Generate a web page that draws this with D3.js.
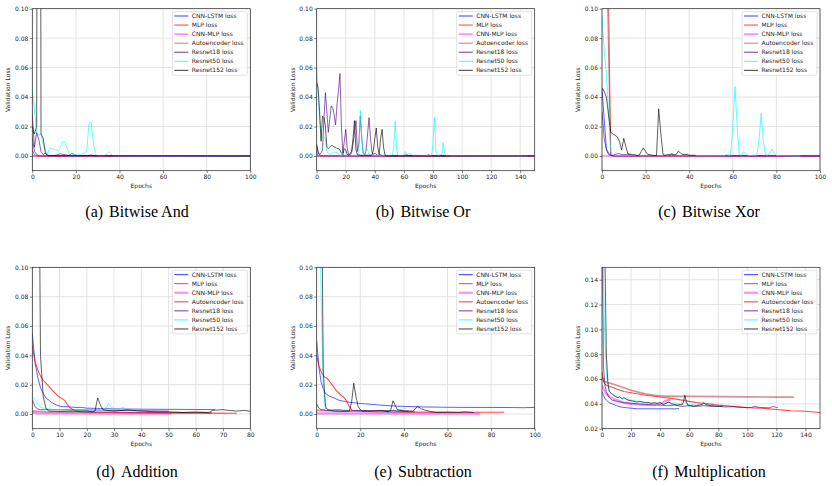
<!DOCTYPE html>
<html><head><meta charset="utf-8">
<script src="https://cdn.jsdelivr.net/npm/d3@7"></script>
<style>body{margin:0;background:#fff}svg{display:block}</style>
</head><body><svg id="c" width="832" height="486"></svg>
<script>
// ---------------- DATA: [epoch, validation loss] ----------------
const seriesNames = ["CNN-LSTM loss","MLP loss","CNN-MLP loss","Autoencoder loss","Resnet18 loss","Resnet50 loss","Resnet152 loss"];

// (a) Bitwise And
const aCnnLstm = [[0,0.012],[1,0.003],[2,0.001],[3,0],[100,0]];
const aMlp = [[0,0.004],[1,0.001],[2,0],[100,0]];
const aCnnMlp = [[0,0],[100,0]];
const aAuto = [[0,0],[100,0]];
const aResnet18 = [[0,0.028],[1,0.006],[2,0.016],[3,0.011],[4,0.003],[5,0.001],[6,0.002],[7,0.0005],[8,0.0003],[11,0.0005],[12,0.0012],[13,0.0015],[14,0.001],[15,0.0008],[17,0.0002],[18,0.0018],[19,0.0012],[20,0.0002],[26,0.0002],[27,0.0008],[28,0.0002],[40,0.0001],[100,0]];
const aResnet50 = [[0,0.045],[1,0.032],[2,0.016],[3,0.014],[4,0.015],[5,0.008],[6,0.004],[7,0.001],[8,0.0055],[9,0.005],[10,0.0045],[11,0.004],[12,0.004],[13,0.006],[14,0.0095],[15,0.0095],[16,0.005],[17,0.001],[18,0.0015],[19,0.001],[20,0.001],[21,0.0005],[22,0.001],[23,0.0015],[24,0.002],[25,0.004],[26,0.022],[27,0.023],[28,0.009],[29,0.001],[30,0.0003],[33,0.0003],[34,0.001],[35,0.003],[36,0.0015],[37,0.0002],[45,0.0001],[100,0]];
const aResnet152 = [[0,0.02],[1,0.015],[2,0.02],[3,0.9],[4,0.015],[5,0.012],[6,0.002],[7,0.0005],[8,0.0002],[100,0]];

// (b) Bitwise Or
const bCnnLstm = [[0,0.008],[1,0.002],[2,0.0005],[3,0],[150,0]];
const bMlp = [[0,0.003],[1,0],[150,0]];
const bCnnMlp = [[0,0],[150,0]];
const bAuto = [[0,0],[150,0]];
const bResnet18 = [[0,0.007],[1,0.003],[2,0.001],[3,0.002],[4,0.004],[5,0.025],[6,0.043],[7,0.03],[8,0.016],[9,0.025],[10,0.034],[11,0.033],[12,0.028],[13,0.021],[14,0.035],[15,0.045],[16,0.056],[17,0.02],[18,0.002],[19,0.01],[20,0.018],[21,0.005],[22,0.001],[23,0.0005],[24,0.002],[25,0.008],[26,0.016],[27,0.024],[28,0.003],[29,0.008],[30,0.027],[31,0.012],[32,0.002],[33,0.001],[34,0.004],[35,0.015],[36,0.026],[37,0.012],[38,0.003],[39,0.001],[40,0.002],[41,0.001],[42,0.0005],[44,0.001],[45,0.0002],[60,0.0002],[62,0.001],[63,0.0003],[76,0.0003],[77,0.001],[78,0.0002],[92,0.0001]];
const bResnet50 = [[0,0.06],[1,0.042],[2,0.025],[3,0.016],[4,0.012],[5,0.013],[6,0.012],[7,0.003],[8,0.002],[9,0.001],[10,0.0015],[11,0.002],[12,0.003],[13,0.002],[14,0.0025],[15,0.001],[16,0.0005],[18,0.001],[20,0.0005],[28,0.0005],[29,0.003],[30,0.031],[31,0.012],[32,0.002],[33,0.001],[34,0.005],[35,0.004],[36,0.001],[37,0.0005],[52,0.0005],[53,0.005],[54,0.024],[55,0.004],[56,0.0003],[60,0.0005],[61,0.003],[62,0.001],[63,0.002],[64,0.001],[65,0.0015],[66,0.0005],[79,0.0003],[80,0.008],[81,0.026],[82,0.004],[83,0.0003],[86,0.001],[87,0.009],[88,0.002],[89,0.0002],[145,0]];
const bResnet152 = [[0,0.05],[1,0.046],[2,0.03],[3,0.01],[4,0.027],[5,0.026],[6,0.02],[7,0.006],[8,0.005],[9,0.006],[10,0.007],[11,0.007],[12,0.006],[13,0.006],[14,0.005],[15,0.005],[16,0.004],[17,0.002],[18,0.001],[19,0.005],[20,0.004],[21,0.001],[22,0.0005],[24,0.003],[25,0.012],[26,0.024],[27,0.004],[28,0.001],[30,0.0005],[38,0.0005],[39,0.004],[40,0.012],[41,0.019],[42,0.006],[43,0.001],[44,0.012],[45,0.018],[46,0.006],[47,0.0005],[48,0],[150,0]];

// (c) Bitwise Xor
const cCnnLstm = [[0,0.046],[1,0.025],[2,0.005],[3,0.002],[4,0.0005],[5,0],[100,0]];
const cMlp = [[0,0.4],[1,0.3],[2,0.25],[3,0.11],[4,0.001],[5,0],[100,0]];
const cCnnMlp = [[0,0],[100,0]];
const cAuto = [[0,0.45],[1,0.35],[2,0.15],[3,0.07],[4,0.0005],[5,0],[100,0]];
const cResnet18 = [[0,0.03],[1,0.012],[2,0.004],[3,0.001],[4,0.0005],[5,0.0005],[6,0.001],[7,0.0015],[8,0.0015],[9,0.001],[10,0.0008],[11,0.001],[12,0.0015],[13,0.0008],[14,0.0004],[30,0.0003],[31,0.001],[32,0.0015],[33,0.001],[34,0.0003],[45,0.0002],[100,0]];
const cResnet50 = [[0,0.095],[1,0.072],[2,0.056],[3,0.03],[4,0.003],[5,0.001],[6,0.0003],[56,0.0002],[57,0.001],[58,0.0005],[59,0.0005],[60,0.02],[61,0.047],[62,0.02],[63,0.001],[64,0.0005],[65,0.003],[66,0.0015],[67,0.0003],[71,0.0005],[72,0.01],[73,0.029],[74,0.01],[75,0.001],[76,0.0005],[77,0.002],[78,0.0045],[79,0.002],[80,0.0003],[91,0]];
const cResnet152 = [[0,0.046],[1,0.044],[2,0.04],[3,0.028],[4,0.016],[5,0.015],[6,0.014],[7,0.013],[8,0.01],[9,0.004],[10,0.012],[11,0.006],[12,0.001],[13,0.0012],[14,0.001],[15,0.0008],[16,0.0003],[17,0.0005],[18,0.003],[19,0.0055],[20,0.003],[21,0.001],[22,0.001],[23,0.0005],[24,0.0003],[25,0.0003],[26,0.032],[27,0.015],[28,0.001],[29,0.0005],[30,0.001],[31,0.0005],[32,0.001],[33,0.0005],[34,0.001],[35,0.0033],[36,0.002],[37,0.001],[38,0.001],[39,0.001],[40,0.0005],[43,0.0005]];

// (d) Addition
const dCnnLstm = [[0,0.055],[1,0.035],[2,0.025],[3,0.018],[4,0.014],[5,0.011],[6,0.0095],[7,0.008],[8,0.007],[9,0.006],[10,0.0055],[11,0.005],[12,0.005],[14,0.0048],[16,0.0045],[18,0.0045],[20,0.004],[25,0.0038],[30,0.0035],[40,0.0033],[50,0.0032],[60,0.0031],[67,0.003]];
const dMlp = [[0,0.046],[1,0.036],[2,0.03],[3,0.026],[4,0.023],[5,0.021],[6,0.019],[7,0.017],[8,0.015],[9,0.013],[10,0.0115],[11,0.0105],[12,0.009],[13,0.006],[14,0.004],[15,0.003],[16,0.002],[18,0.0015],[25,0.0012],[35,0.001],[50,0.0008],[65,0.0006],[75,0.0005]];
const dCnnMlp = [[0,0.001],[2,0.0005],[51,0.0003]];
const dAuto = [[0,0.002],[5,0.0015],[20,0.0012],[40,0.001],[55,0.001],[66,0.0009]];
const dResnet18 = [[0,0.01],[1,0.005],[2,0.0035],[3,0.003],[10,0.003],[20,0.0028],[30,0.0025],[40,0.0023],[50,0.002]];
const dResnet50 = [[0,0.012],[1,0.01],[2,0.007],[3,0.0045],[4,0.004],[5,0.004],[6,0.0035],[8,0.003],[10,0.003],[15,0.0025],[20,0.0025],[25,0.003],[27,0.004],[28,0.007],[29,0.005],[30,0.003],[32,0.003],[33,0.0045],[34,0.004],[35,0.003],[38,0.0025],[40,0.002]];
const dResnet152 = [[0,0.5],[1,0.4],[2,0.3],[3,0.04],[4,0.012],[5,0.004],[6,0.002],[10,0.0018],[15,0.002],[20,0.002],[22,0.0015],[23,0.002],[24,0.011],[25,0.006],[26,0.003],[27,0.0025],[30,0.002],[35,0.0028],[40,0.002],[45,0.0015],[50,0.0015],[55,0.001],[60,0.0013],[64,0.001],[65,0.0008],[66,0.0025],[70,0.003],[72,0.0025],[75,0.002],[78,0.0025],[80,0.0018]];

// (e) Subtraction
const eCnnLstm = [[0,0.05],[1,0.032],[2,0.022],[3,0.017],[4,0.014],[5,0.013],[6,0.012],[8,0.011],[10,0.0095],[12,0.0088],[15,0.008],[20,0.0072],[25,0.0066],[30,0.006],[35,0.0055],[40,0.0052],[50,0.0048],[60,0.0046],[70,0.0045],[80,0.0045],[90,0.0044],[95,0.0043],[100,0.0045]];
const eMlp = [[0,0.04],[1,0.033],[2,0.029],[3,0.026],[4,0.025],[5,0.024],[6,0.022],[7,0.02],[8,0.018],[9,0.016],[10,0.0145],[11,0.013],[12,0.012],[13,0.0105],[14,0.008],[15,0.005],[16,0.003],[17,0.002],[20,0.0018],[30,0.0015],[50,0.0013],[70,0.0012],[86,0.0012]];
const eCnnMlp = [[0,0.0005],[75,0.0003]];
const eAuto = [[0,0.0025],[10,0.002],[25,0.002],[40,0.0018],[45,0.0015]];
const eResnet18 = [[0,0.007],[1,0.004],[2,0.003],[5,0.0025],[10,0.003],[15,0.002],[20,0.0025],[30,0.002],[35,0.0025],[40,0.002],[42,0.002]];
const eResnet50 = [[0,0.5],[1,0.2],[2,0.08],[3,0.02],[4,0.004],[5,0.003],[8,0.0025],[12,0.002],[16,0.0018],[20,0.0015],[25,0.002],[30,0.0015],[33,0.001],[36,0.002],[40,0.0035],[41,0.004]];
const eResnet152 = [[0,0.6],[1,0.4],[2,0.2],[3,0.03],[4,0.005],[5,0.003],[8,0.002],[12,0.0018],[15,0.002],[16,0.008],[17,0.021],[18,0.012],[19,0.005],[20,0.003],[21,0.0018],[25,0.002],[30,0.0025],[33,0.0015],[34,0.003],[35,0.009],[36,0.006],[37,0.003],[40,0.002],[44,0.002],[45,0.003],[46,0.005],[47,0.0045],[48,0.0035],[50,0.0025],[53,0.0015],[55,0.001],[60,0.0012],[65,0.001],[68,0.0015],[72,0.001]];

// (f) Multiplication
const fCnnLstm = [[0,0.05],[1,0.047],[2,0.0445],[3,0.043],[4,0.042],[5,0.041],[7,0.04],[10,0.0385],[13,0.0375],[16,0.037],[20,0.0365],[25,0.036],[30,0.036],[40,0.036],[50,0.036],[53,0.0362]];
const fMlp = [[0,0.066],[1,0.058],[2,0.056],[3,0.055],[5,0.054],[8,0.053],[10,0.052],[15,0.05],[20,0.049],[25,0.048],[30,0.047],[40,0.0455],[50,0.044],[55,0.043],[60,0.042],[65,0.041],[70,0.0405],[80,0.039],[90,0.038],[100,0.037],[110,0.0365],[115,0.036],[120,0.0355],[125,0.035],[130,0.0345],[140,0.034],[150,0.033]];
const fCnnMlp = [[0,0.055],[1,0.052],[2,0.05],[3,0.048],[5,0.046],[8,0.044],[10,0.043],[15,0.041],[20,0.04],[25,0.0395],[30,0.039],[35,0.0395],[40,0.04],[43,0.042],[45,0.043],[47,0.043]];
const fAuto = [[0,0.062],[1,0.059],[2,0.058],[4,0.057],[6,0.0565],[10,0.055],[15,0.053],[20,0.051],[25,0.0495],[30,0.048],[35,0.047],[40,0.0465],[50,0.046],[60,0.046],[80,0.0458],[100,0.0456],[120,0.0455],[132,0.0455]];
const fResnet18 = [[0,0.2],[1,0.07],[2,0.055],[3,0.05],[4,0.047],[5,0.045],[7,0.043],[10,0.042],[15,0.041],[20,0.0405],[25,0.04],[30,0.0395],[35,0.039],[40,0.039],[45,0.0385],[50,0.039],[55,0.038],[60,0.0385],[65,0.038],[70,0.0385],[75,0.038],[80,0.038],[85,0.0375],[90,0.0378],[95,0.0372],[100,0.037],[103,0.0372],[105,0.038],[108,0.0372],[112,0.037],[115,0.0368],[118,0.038],[120,0.037],[121,0.0372]];
const fResnet50 = [[0,0.3],[1,0.14],[2,0.09],[3,0.065],[4,0.054],[5,0.05],[6,0.048],[8,0.047],[10,0.046],[12,0.045],[15,0.044],[18,0.0435],[20,0.043],[23,0.0425],[25,0.042],[28,0.041],[30,0.041],[33,0.0405],[35,0.0405],[38,0.04],[40,0.0405],[43,0.04],[45,0.041],[48,0.0405],[50,0.041],[53,0.04],[55,0.0405],[57,0.044],[58,0.04],[60,0.039],[63,0.0395],[65,0.039],[68,0.04],[70,0.0405],[73,0.0395],[75,0.0405],[78,0.0395],[80,0.038],[82,0.0385]];
const fResnet152 = [[0,0.5],[1,0.35],[2,0.16],[3,0.08],[4,0.058],[5,0.05],[6,0.049],[7,0.048],[8,0.047],[9,0.046],[10,0.0455],[11,0.045],[12,0.046],[13,0.045],[14,0.044],[15,0.045],[16,0.0445],[17,0.0435],[18,0.043],[20,0.0425],[22,0.042],[24,0.0415],[26,0.042],[28,0.0415],[30,0.041],[32,0.041],[34,0.0405],[36,0.041],[38,0.0405],[40,0.041],[42,0.0395],[44,0.0405],[46,0.0415],[48,0.04],[50,0.0395],[52,0.039],[54,0.0395],[55,0.039],[56,0.041],[57,0.047],[58,0.042],[59,0.039],[61,0.0385],[63,0.038],[65,0.0385],[67,0.039],[69,0.0395],[70,0.041],[71,0.0395],[73,0.039],[75,0.0385],[77,0.0385],[79,0.038],[81,0.038],[83,0.0382]];

// tick values / labels
const xTicks100 = [0,20,40,60,80,100];
const xTicks150 = [0,20,40,60,80,100,120,140];
const xTicks80 = [0,10,20,30,40,50,60,70,80];
const yTicksLogic = [0,0.02,0.04,0.06,0.08,0.10];
const yTicksMul = [0.02,0.04,0.06,0.08,0.10,0.12,0.14];
const captionTags = ["(a)","(b)","(c)","(d)","(e)","(f)"];
const captionTitles = ["Bitwise And","Bitwise Or","Bitwise Xor","Addition","Subtraction","Multiplication"];

// ---------------- STYLE / LAYOUT ----------------
const colors = ["#0000ff","#ff0000","#ff00ff","#a52a2a","#4b0082","#00ffff","#000000"];
const widthsTop = [0.9,0.9,0.9,1.1,0.9,0.9,0.9];
const widthsBottom = [0.9,1.1,2.2,1.7,0.9,0.9,0.9];
const opacTop = [0.7,0.7,0.7,0.55,0.7,0.7,0.7];
const opacBottom = [0.7,0.7,0.45,0.5,0.7,0.7,0.7];

const colLeft = [32.3, 316.7, 602];
const plotW = 218;
const rowTop = [8.7, 267.3];
const rowBottom = [170.7, 428.7];
const capX = [137, 423, 709];
const capY = [217.3, 476.7];

const panels = [
  {s:[aCnnLstm,aMlp,aCnnMlp,aAuto,aResnet18,aResnet50,aResnet152], xMax:100, xt:xTicks100, yd:[-0.01,0.10], yt:yTicksLogic, c:0, r:0},
  {s:[bCnnLstm,bMlp,bCnnMlp,bAuto,bResnet18,bResnet50,bResnet152], xMax:150, xt:xTicks150, yd:[-0.01,0.10], yt:yTicksLogic, c:1, r:0},
  {s:[cCnnLstm,cMlp,cCnnMlp,cAuto,cResnet18,cResnet50,cResnet152], xMax:100, xt:xTicks100, yd:[-0.01,0.10], yt:yTicksLogic, c:2, r:0},
  {s:[dCnnLstm,dMlp,dCnnMlp,dAuto,dResnet18,dResnet50,dResnet152], xMax:80, xt:xTicks80, yd:[-0.01,0.10], yt:yTicksLogic, c:0, r:1},
  {s:[eCnnLstm,eMlp,eCnnMlp,eAuto,eResnet18,eResnet50,eResnet152], xMax:100, xt:xTicks100, yd:[-0.01,0.10], yt:yTicksLogic, c:1, r:1},
  {s:[fCnnLstm,fMlp,fCnnMlp,fAuto,fResnet18,fResnet50,fResnet152], xMax:150, xt:xTicks150, yd:[0.02,0.15], yt:yTicksMul, c:2, r:1}
];

const svg = d3.select("#c");
const font = "'DejaVu Sans', sans-serif";
const ink = "#262626";

panels.forEach((p, i) => {
  const L = colLeft[p.c], R = L + plotW, T = rowTop[p.r], B = rowBottom[p.r];
  const x = d3.scaleLinear().domain([0, p.xMax]).range([L, R]);
  const y = d3.scaleLinear().domain(p.yd).range([B, T]);
  const g = svg.append("g");
  const widths = p.r === 0 ? widthsTop : widthsBottom;
  const opac = p.r === 0 ? opacTop : opacBottom;

  // grid
  g.append("g").selectAll("line").data(p.xt).join("line")
    .attr("x1", d => x(d)).attr("x2", d => x(d)).attr("y1", T).attr("y2", B)
    .attr("stroke", "#dcdcdc").attr("stroke-width", 0.8);
  g.append("g").selectAll("line").data(p.yt).join("line")
    .attr("x1", L).attr("x2", R).attr("y1", d => y(d)).attr("y2", d => y(d))
    .attr("stroke", "#dcdcdc").attr("stroke-width", 0.8);

  // clip
  const cid = "clip" + i;
  svg.append("clipPath").attr("id", cid).append("rect")
    .attr("x", L).attr("y", T).attr("width", R - L).attr("height", B - T);

  const line = d3.line().x(d => x(d[0])).y(d => y(d[1]));
  const lg = g.append("g").attr("clip-path", `url(#${cid})`);
  p.s.forEach((ser, k) => {
    lg.append("path").datum(ser).attr("d", line)
      .attr("fill", "none").attr("stroke", colors[k])
      .attr("stroke-width", widths[k]).attr("stroke-opacity", opac[k])
      .attr("stroke-linejoin", "round");
  });

  // axes
  const xa = g.append("g").attr("transform", `translate(0,${B})`)
    .call(d3.axisBottom(x).tickValues(p.xt).tickFormat(d3.format("d")).tickSize(2.5).tickSizeOuter(0).tickPadding(2));
  const ya = g.append("g").attr("transform", `translate(${L},0)`)
    .call(d3.axisLeft(y).tickValues(p.yt).tickFormat(d3.format(".2f")).tickSize(2.5).tickSizeOuter(0).tickPadding(1.5));
  [xa, ya].forEach(a => {
    a.select(".domain").remove();
    a.selectAll("line").attr("stroke", ink).attr("stroke-width", 0.6);
    a.selectAll("text").attr("font-family", font).attr("font-size", 6).attr("fill", ink);
  });

  // spines
  g.append("rect").attr("x", L).attr("y", T).attr("width", R - L).attr("height", B - T)
    .attr("fill", "none").attr("stroke", ink).attr("stroke-width", 0.7);

  // axis labels
  g.append("text").attr("x", (L + R) / 2).attr("y", B + 15).attr("dy", "0.35em")
    .attr("text-anchor", "middle").attr("font-family", font).attr("font-size", 6).attr("fill", ink)
    .text("Epochs");
  g.append("text").attr("transform", `translate(${L - 24},${(T + B) / 2}) rotate(-90)`)
    .attr("dy", "0.35em").attr("text-anchor", "middle").attr("font-family", font)
    .attr("font-size", 6).attr("fill", ink).text("Validation Loss");

  // legend
  const bw = 75, bh = 63.5, bx = R - 3 - bw, by = T + 3;
  const leg = g.append("g");
  leg.append("rect").attr("x", bx).attr("y", by).attr("width", bw).attr("height", bh)
    .attr("rx", 1.5).attr("fill", "#fff").attr("fill-opacity", 0.85)
    .attr("stroke", "#cccccc").attr("stroke-width", 0.6);
  seriesNames.forEach((nm, k) => {
    const yy = by + 4.3 + k * 9.06;
    leg.append("line").attr("x1", bx + 2).attr("x2", bx + 16).attr("y1", yy).attr("y2", yy)
      .attr("stroke", colors[k]).attr("stroke-width", Math.max(widths[k], 1.1))
      .attr("stroke-opacity", opac[k]);
    leg.append("text").attr("x", bx + 19.5).attr("y", yy).attr("dy", "0.35em")
      .attr("font-family", font).attr("font-size", 6).attr("fill", ink).text(nm);
  });

  // caption
  const cap = svg.append("text").attr("x", capX[p.c]).attr("y", capY[p.r])
    .attr("text-anchor", "middle").attr("font-family", "'Liberation Serif', 'Times New Roman', serif")
    .attr("font-size", 16).attr("fill", "#000");
  cap.append("tspan").text(captionTags[i]);
  cap.append("tspan").attr("dx", 6).text(captionTitles[i]);
});
</script>
</body></html>
